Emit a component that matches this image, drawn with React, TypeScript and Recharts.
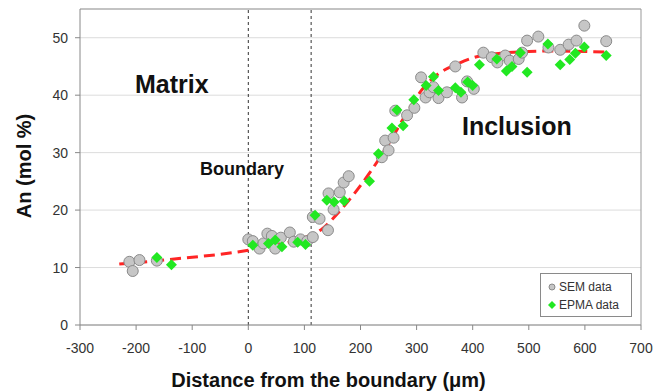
import {
  ComposedChart, Scatter, Line, XAxis, YAxis, CartesianGrid, ReferenceLine, Legend,
} from 'recharts'

// SEM measurements (gray circles)
const semX = [
  -212, -206, -194, -163, 0, 8, 20, 27, 34, 42, 48, 58, 74, 81, 93, 105, 115, 115, 127,
  142, 143, 152, 163, 170, 179, 238, 244, 250, 259, 262, 283, 296, 308, 316, 323, 330,
  339, 354, 369, 381, 390, 402, 419, 434, 444, 458, 466, 482, 488, 497, 517, 535, 556,
  571, 585, 599, 638,
]
const semY = [
  11.0, 9.4, 11.3, 11.2, 14.9, 14.6, 13.3, 14.2, 15.9, 15.5, 13.3, 15.2, 16.1, 14.5, 14.9,
  14.6, 15.3, 18.8, 18.5, 16.5, 22.9, 20.1, 23.1, 24.8, 25.9, 29.2, 32.1, 30.4, 32.6, 37.3,
  36.5, 37.8, 43.1, 39.6, 40.5, 41.4, 39.5, 40.5, 45.0, 39.6, 42.4, 41.1, 47.4, 46.6, 45.7,
  46.9, 46.0, 46.3, 47.4, 49.5, 50.2, 48.3, 47.9, 48.8, 49.5, 52.1, 49.4,
]

// EPMA measurements (green diamonds)
const epmaX = [
  -163, -137, 8, 36, 48, 60, 88, 102, 119, 140, 153, 171, 216, 232, 256, 265, 276, 295,
  317, 330, 339, 369, 379, 391, 400, 412, 443, 460, 470, 485, 497, 534, 556, 573, 583,
  599, 638,
]
const epmaY = [
  11.75, 10.5, 13.9, 14.2, 14.8, 13.6, 14.4, 14.0, 19.1, 21.7, 21.4, 21.6, 25.0, 29.8,
  34.3, 37.4, 34.7, 39.2, 41.7, 43.2, 40.8, 41.3, 40.5, 42.3, 41.7, 45.3, 46.3, 44.2,
  45.0, 47.4, 44.0, 48.9, 45.3, 46.2, 47.3, 48.4, 46.9,
]

// fitted curve (red dashed)
const fitX = [-230, -150, -100, -50, 0, 50, 100, 130, 160, 190, 220, 250, 280, 310, 340, 370, 400, 450, 500, 550, 600, 640]
const fitY = [10.6, 11.3, 11.8, 12.3, 13.0, 13.9, 15.2, 16.6, 19.5, 23.0, 27.0, 31.5, 36.5, 41.0, 43.8, 45.3, 46.5, 47.3, 47.6, 47.7, 47.6, 47.5]

const xTicks = [-300, -200, -100, 0, 100, 200, 300, 400, 500, 600, 700]
const yTicks = [0, 10, 20, 30, 40, 50]

const semData = semX.map((x, i) => ({ x, y: semY[i] }))
const epmaData = epmaX.map((x, i) => ({ x, y: epmaY[i] }))
const fitData = fitX.map((x, i) => ({ x, y: fitY[i] }))

const FONT = "'Liberation Sans Narrow', 'Liberation Sans', Arial, sans-serif"
const BOLD = "'Liberation Sans', Arial, sans-serif"
const GREEN = '#22e822'

function SemDot(props: any) {
  return <circle cx={props.cx} cy={props.cy} r={5.5} fill="#c6c6c6" stroke="#8a8a8a" strokeWidth={1} />
}

function EpmaDot(props: any) {
  const { cx, cy } = props
  const s = 5.5
  return <path d={`M${cx},${cy - s}L${cx + s},${cy}L${cx},${cy + s}L${cx - s},${cy}Z`} fill={GREEN} />
}

function LegendBox() {
  return (
    <div style={{
      width: 92, height: 44, border: '1px solid #8a8a8a', background: '#fff',
      fontFamily: FONT, fontSize: 12, color: '#333', boxSizing: 'border-box', padding: '4px 0 0 6px',
    }}>
      <div style={{ display: 'flex', alignItems: 'center', height: 18 }}>
        <svg width={10} height={10}><circle cx={5} cy={5} r={3} fill="#c6c6c6" stroke="#8a8a8a" /></svg>
        <span style={{ marginLeft: 2 }}>SEM data</span>
      </div>
      <div style={{ display: 'flex', alignItems: 'center', height: 18 }}>
        <svg width={10} height={10}><path d="M5,1L9,5L5,9L1,5Z" fill={GREEN} /></svg>
        <span style={{ marginLeft: 2 }}>EPMA data</span>
      </div>
    </div>
  )
}

export default function App() {
  return (
    <div style={{ position: 'absolute', left: 0, top: 0, width: 665, height: 392, background: '#fff' }}>
      <ComposedChart width={665} height={392} margin={{ top: 9, right: 24, left: 0, bottom: 0 }}>
        <CartesianGrid vertical={false} stroke="#dcdcdc" />
        <XAxis
          type="number"
          dataKey="x"
          domain={[-300, 700]}
          ticks={xTicks}
          height={67}
          tickSize={5}
          tickMargin={13}
          axisLine={{ stroke: '#888' }}
          tickLine={{ stroke: '#888' }}
          tick={{ fontSize: 14, fill: '#333', fontFamily: FONT }}
          label={{
            content: (p: any) => (
              <text x={p.viewBox.x + p.viewBox.width / 2 - 32} y={387} textAnchor="middle"
                fontFamily={BOLD} fontWeight="bold" fontSize={20} fill="#111">
                Distance from the boundary (μm)
              </text>
            ),
          }}
        />
        <YAxis
          type="number"
          dataKey="y"
          domain={[0, 55]}
          ticks={yTicks}
          width={80}
          tickSize={5}
          tickMargin={7}
          axisLine={{ stroke: '#888' }}
          tickLine={{ stroke: '#888' }}
          tick={{ fontSize: 14, fill: '#333', fontFamily: FONT }}
          label={{
            content: () => (
              <text x={0} y={0} transform="translate(31,166) rotate(-90)" textAnchor="middle"
                fontFamily={BOLD} fontWeight="bold" fontSize={20} fill="#111">
                An (mol %)
              </text>
            ),
          }}
        />
        <ReferenceLine y={55} stroke="#999" />
        <ReferenceLine x={700} stroke="#999" />
        <ReferenceLine x={0} stroke="#333" strokeDasharray="3 3" />
        <ReferenceLine x={112} stroke="#333" strokeDasharray="3 3" />
        <Scatter name="SEM data" data={semData} shape={<SemDot />} isAnimationActive={false} />
        <Scatter name="EPMA data" data={epmaData} shape={<EpmaDot />} fill={GREEN} isAnimationActive={false} />
        <Line
          data={fitData}
          dataKey="y"
          type="monotone"
          stroke="#ff2525"
          strokeWidth={3}
          strokeDasharray="11 6"
          dot={false}
          legendType="none"
          isAnimationActive={false}
        />
        <Legend
          layout="horizontal"
          align="center"
          verticalAlign="middle"
          content={() => <LegendBox />}
          wrapperStyle={{ left: 540, top: 273, width: 92, height: 44 }}
        />
      </ComposedChart>
      <div style={{ position: 'absolute', left: 135, top: 72, fontFamily: BOLD, fontWeight: 'bold', fontSize: 25, lineHeight: 1, color: '#111' }}>
        Matrix
      </div>
      <div style={{ position: 'absolute', left: 462, top: 114, fontFamily: BOLD, fontWeight: 'bold', fontSize: 25, lineHeight: 1, color: '#111' }}>
        Inclusion
      </div>
      <div style={{ position: 'absolute', left: 200, top: 160, fontFamily: BOLD, fontWeight: 'bold', fontSize: 18, lineHeight: 1, color: '#111' }}>
        Boundary
      </div>
    </div>
  )
}
